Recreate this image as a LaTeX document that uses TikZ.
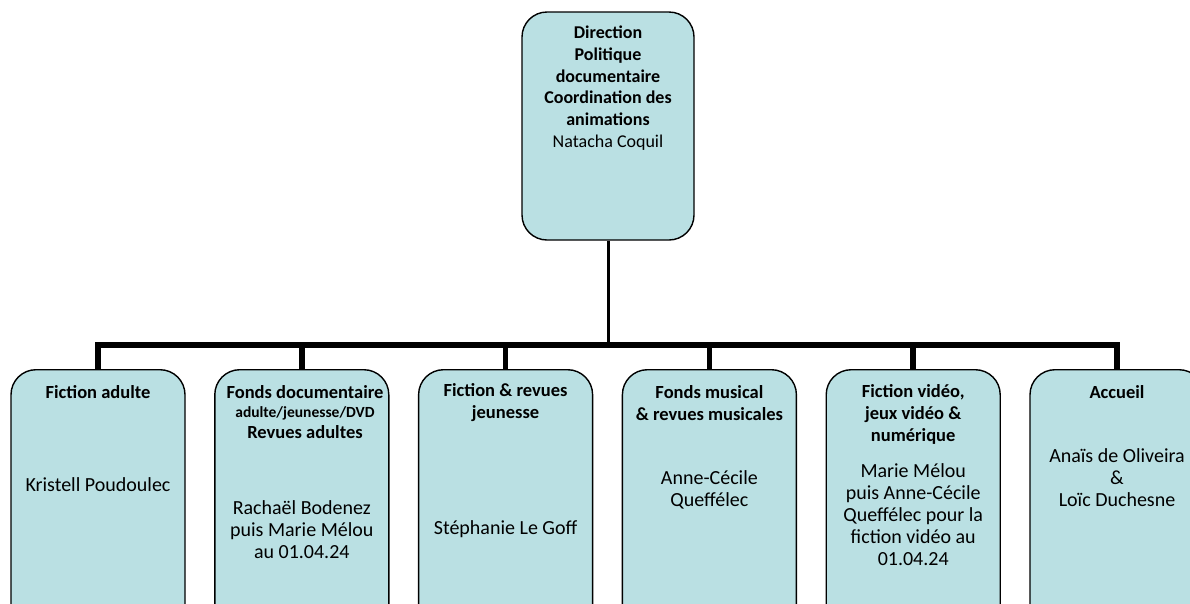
\documentclass[tikz,border=0pt]{standalone}
\usepackage{fontspec}
\setmainfont{Carlito}
\definecolor{boxfill}{RGB}{186,224,227}
\begin{document}
\begin{tikzpicture}[x=1pt,y=-1pt,
  unit/.style={draw=black, line width=1.4pt, fill=boxfill, rounded corners=25pt,
               minimum width=174pt, inner sep=0pt},
  head/.style={font=\bfseries\fontsize{18.5}{22}\selectfont, align=center, inner sep=0pt},
  person/.style={font=\fontsize{20}{22}\selectfont, align=center, inner sep=0pt},
  wire/.style={line width=5.5pt},
  stem/.style={line width=3pt}]
\useasboundingbox (0,0) rectangle (1190,603);
\clip (0,0) rectangle (1190,603);

% head of the service
\node[unit, minimum width=172pt, minimum height=228pt] (top) at (608,126) {};

% the six sections (boxes run past the lower edge)
\node[unit, minimum height=270pt, anchor=north] (b1) at (98,369) {};
\node[unit, minimum height=270pt, anchor=north] (b2) at (301.8,369) {};
\node[unit, minimum height=270pt, anchor=north] (b3) at (505.6,369) {};
\node[unit, minimum height=270pt, anchor=north] (b4) at (709.4,369) {};
\node[unit, minimum height=270pt, anchor=north] (b5) at (913.2,369) {};
\node[unit, minimum height=270pt, anchor=north] (b6) at (1117,369) {};

% connectors
\coordinate (hub) at (608,345);
\draw[stem] (top.south) -- (hub);
\foreach \b in {b1,b2,b3,b4,b5,b6}
  \draw[wire] (hub) -| (\b.north);

% texts
\node[head, font=\bfseries\fontsize{18}{21.7}\selectfont] (t0) at (608,88)
  {Direction\\Politique\\documentaire\\Coordination des\\animations\\\textmd{Natacha Coquil}};

\node[head] (h1) at (98,392) {Fiction adulte};
\node[person] (p1) at (98,485) {Kristell Poudoulec};

\node[head] (h2) at (305,412) {Fonds documentaire\\[-3pt]{\fontsize{15.5}{17}\selectfont adulte/jeunesse/DVD}\\[-1pt]Revues adultes};
\node[person] (p2) at (301.8,529.5) {Rachaël Bodenez\\puis Marie Mélou\\au 01.04.24};

\node[head] (h3) at (505.6,403) {Fiction \& revues\\jeunesse};
\node[person] (p3) at (505.6,529) {Stéphanie Le Goff};

\node[head] (h4) at (709.4,403) {Fonds musical\\\& revues musicales};
\node[person] (p4) at (709.4,490) {Anne-Cécile\\Queffélec};

\node[head] (h5) at (913.2,414) {Fiction vidéo,\\jeux vidéo \&\\numérique};
\node[person] (p5) at (913.2,515) {Marie Mélou\\puis Anne-Cécile\\Queffélec pour la\\fiction vidéo au\\01.04.24};

\node[head] (h6) at (1117,392) {Accueil};
\node[person] (p6) at (1117,478) {Anaïs de Oliveira\\\&\\Loïc Duchesne};
\end{tikzpicture}
\end{document}
